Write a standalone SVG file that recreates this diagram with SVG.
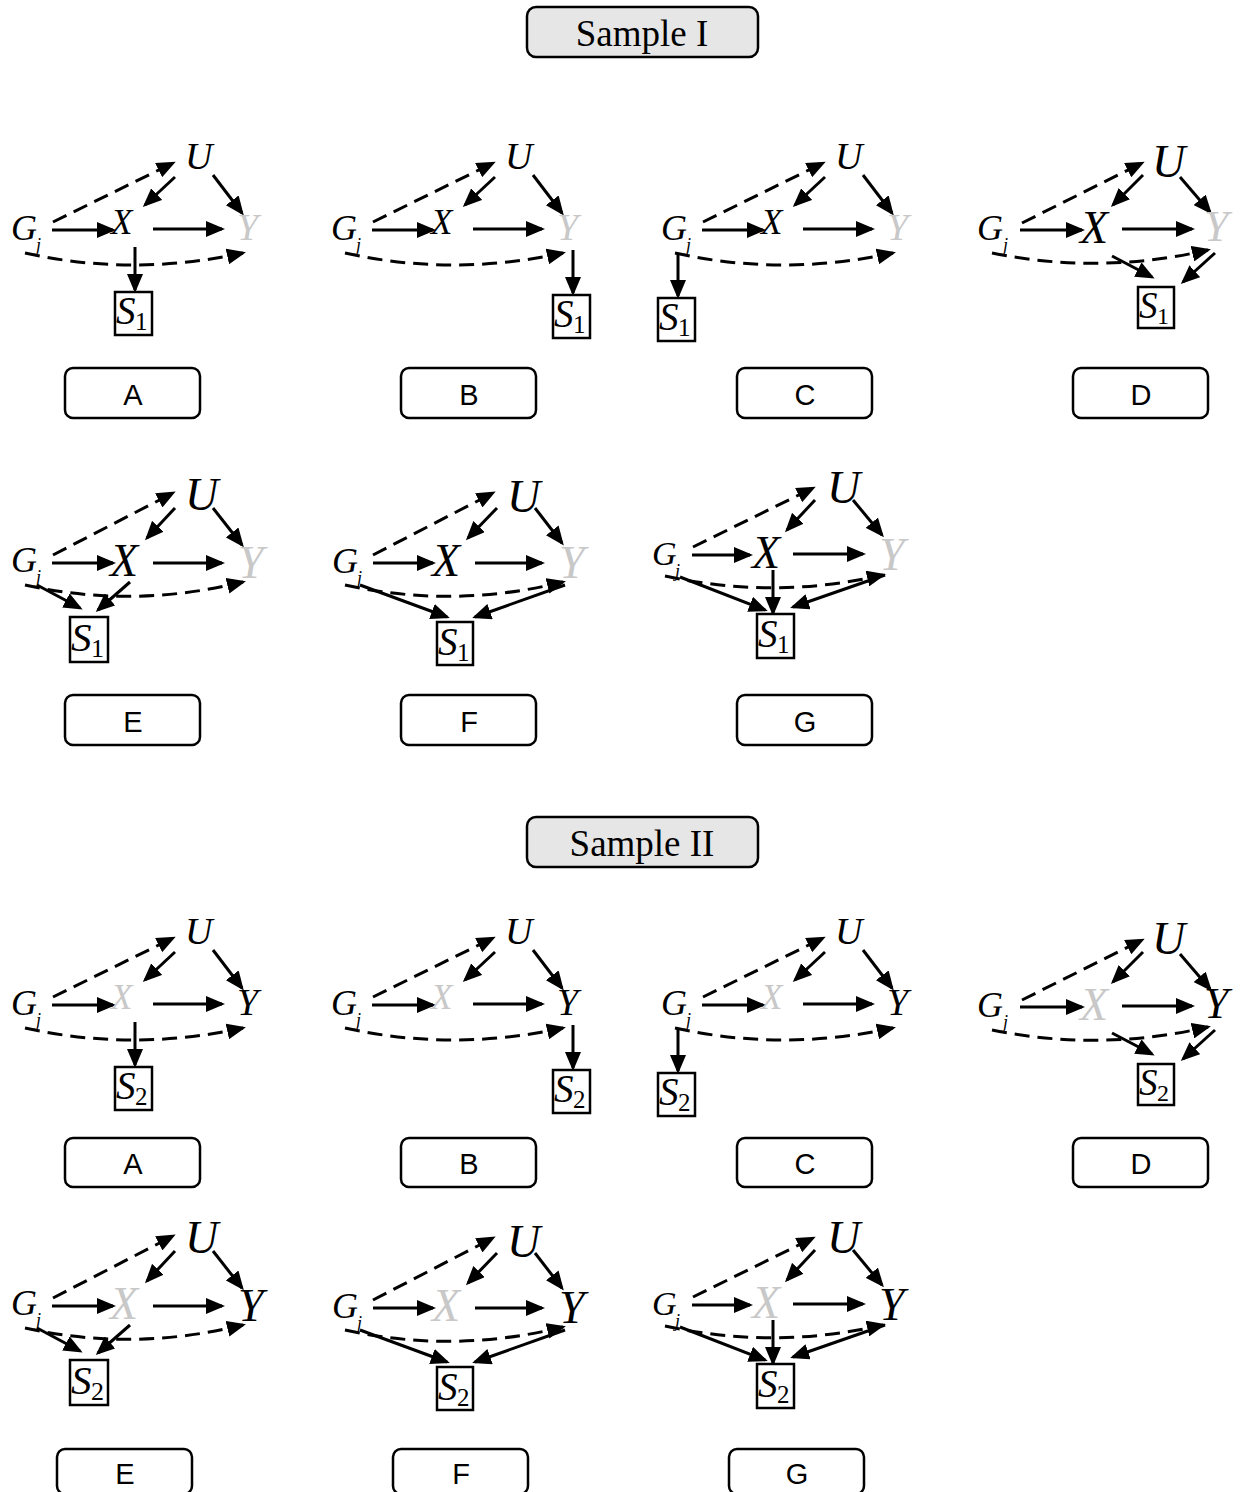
<svg xmlns="http://www.w3.org/2000/svg" width="1246" height="1492" viewBox="0 0 1246 1492">
<defs>
<marker id="ah" markerUnits="userSpaceOnUse" markerWidth="19" markerHeight="16" refX="16" refY="8" orient="auto"><path d="M0,0 L19,8 L0,16 z" fill="#000"/></marker>
<style>
.v{font-family:"Liberation Serif","Times New Roman",serif;font-style:italic;fill:#000}
.gr{fill:#c8c8c8}
.n{font-style:normal}
.e{stroke:#000;stroke-width:3;fill:none;marker-end:url(#ah)}
.d{stroke-dasharray:15 8}
.sb{fill:#fff;stroke:#000;stroke-width:2.5}
.lb{fill:#fff;stroke:#000;stroke-width:2.5}
.tb{fill:#e6e6e6;stroke:#000;stroke-width:2.5}
.lt{font-family:"Liberation Sans",Arial,sans-serif;font-size:29px;text-anchor:middle;fill:#000}
.tt{font-family:"Liberation Serif","Times New Roman",serif;font-size:37px;text-anchor:middle;fill:#000}
</style>
</defs>
<rect width="1246" height="1492" fill="#fff"/>

<!-- Titles -->
<g id="title1"><rect class="tb" x="527" y="7" width="231" height="50" rx="9"/><text class="tt" x="642" y="46">Sample I</text></g>
<g id="title2"><rect class="tb" x="527" y="817" width="231" height="50" rx="9"/><text class="tt" x="642" y="856">Sample II</text></g>

<!-- Labels -->
<g id="labels">
<g id="lab1A"><rect class="lb" x="65" y="368" width="135" height="50" rx="8"/><text class="lt" x="133" y="405">A</text></g>
<g id="lab1B"><rect class="lb" x="401" y="368" width="135" height="50" rx="8"/><text class="lt" x="469" y="405">B</text></g>
<g id="lab1C"><rect class="lb" x="737" y="368" width="135" height="50" rx="8"/><text class="lt" x="805" y="405">C</text></g>
<g id="lab1D"><rect class="lb" x="1073" y="368" width="135" height="50" rx="8"/><text class="lt" x="1141" y="405">D</text></g>
<g id="lab1E"><rect class="lb" x="65" y="695" width="135" height="50" rx="8"/><text class="lt" x="133" y="732">E</text></g>
<g id="lab1F"><rect class="lb" x="401" y="695" width="135" height="50" rx="8"/><text class="lt" x="469" y="732">F</text></g>
<g id="lab1G"><rect class="lb" x="737" y="695" width="135" height="50" rx="8"/><text class="lt" x="805" y="732">G</text></g>
<g id="lab2A"><rect class="lb" x="65" y="1138" width="135" height="49" rx="8"/><text class="lt" x="133" y="1174">A</text></g>
<g id="lab2B"><rect class="lb" x="401" y="1138" width="135" height="49" rx="8"/><text class="lt" x="469" y="1174">B</text></g>
<g id="lab2C"><rect class="lb" x="737" y="1138" width="135" height="49" rx="8"/><text class="lt" x="805" y="1174">C</text></g>
<g id="lab2D"><rect class="lb" x="1073" y="1138" width="135" height="49" rx="8"/><text class="lt" x="1141" y="1174">D</text></g>
<g id="lab2E"><rect class="lb" x="57" y="1449" width="135" height="45" rx="8"/><text class="lt" x="125" y="1484">E</text></g>
<g id="lab2F"><rect class="lb" x="393" y="1449" width="135" height="45" rx="8"/><text class="lt" x="461" y="1484">F</text></g>
<g id="lab2G"><rect class="lb" x="729" y="1449" width="135" height="45" rx="8"/><text class="lt" x="797" y="1484">G</text></g>
</g>

<!-- ===== Sample I ===== -->
<g id="I-A">
<g id="I-A-edges">
<path class="e d" d="M53,222 L173,163"/><path class="e" d="M175,177 L145,205"/><path class="e" d="M213,175 L242,213"/>
<path class="e" d="M52,230 L113,230"/><path class="e" d="M153,229 L222,229"/><path class="e d" d="M25,253 Q133,277 243,253"/>
<path class="e" d="M135,247 L135,290"/>
</g>
<g id="I-A-U"><text class="v" x="185" y="169" font-size="38">U</text></g>
<g id="I-A-G"><text class="v" x="11" y="240" font-size="36">G</text><text class="v" x="36" y="251" font-size="18">j</text></g>
<g id="I-A-X"><text class="v" x="111" y="234" font-size="35">X</text></g>
<g id="I-A-Y"><text class="v gr" x="237" y="240" font-size="38">Y</text></g>
<g id="I-A-S"><rect class="sb" x="115" y="292" width="37" height="43"/><text class="v" x="116" y="324" font-size="39">S</text><text class="v n" x="135" y="330" font-size="25">1</text></g>
</g>

<g id="I-B" transform="translate(320,0)">
<g id="I-B-edges">
<path class="e d" d="M53,222 L173,163"/><path class="e" d="M175,177 L145,205"/><path class="e" d="M213,175 L242,213"/>
<path class="e" d="M52,230 L113,230"/><path class="e" d="M153,229 L222,229"/><path class="e d" d="M25,253 Q133,277 243,253"/>
<path class="e" d="M253,250 L253,293"/>
</g>
<g id="I-B-U"><text class="v" x="185" y="169" font-size="38">U</text></g>
<g id="I-B-G"><text class="v" x="11" y="240" font-size="36">G</text><text class="v" x="36" y="251" font-size="18">j</text></g>
<g id="I-B-X"><text class="v" x="111" y="234" font-size="35">X</text></g>
<g id="I-B-Y"><text class="v gr" x="237" y="240" font-size="38">Y</text></g>
<g id="I-B-S"><rect class="sb" x="233" y="295" width="37" height="43"/><text class="v" x="234" y="327" font-size="39">S</text><text class="v n" x="253" y="333" font-size="25">1</text></g>
</g>

<g id="I-C" transform="translate(650,0)">
<g id="I-C-edges">
<path class="e d" d="M53,222 L173,163"/><path class="e" d="M175,177 L145,205"/><path class="e" d="M213,175 L242,213"/>
<path class="e" d="M52,230 L113,230"/><path class="e" d="M153,229 L222,229"/><path class="e d" d="M25,253 Q133,277 243,253"/>
<path class="e" d="M28,253 L28,296"/>
</g>
<g id="I-C-U"><text class="v" x="185" y="169" font-size="38">U</text></g>
<g id="I-C-G"><text class="v" x="11" y="240" font-size="36">G</text><text class="v" x="36" y="251" font-size="18">j</text></g>
<g id="I-C-X"><text class="v" x="111" y="234" font-size="35">X</text></g>
<g id="I-C-Y"><text class="v gr" x="237" y="240" font-size="38">Y</text></g>
<g id="I-C-S"><rect class="sb" x="8" y="298" width="37" height="43"/><text class="v" x="9" y="330" font-size="39">S</text><text class="v n" x="28" y="336" font-size="25">1</text></g>
</g>

<g id="I-D">
<g id="I-D-edges">
<path class="e d" d="M1022,223 L1142,163"/><path class="e" d="M1143,175 L1113,205"/><path class="e" d="M1180,177 L1210,212"/>
<path class="e" d="M1020,230 L1082,230"/><path class="e" d="M1122,229 L1192,229"/><path class="e d" d="M992,253 Q1100,275 1208,250"/>
<path class="e" d="M1112,256 L1152,277"/><path class="e" d="M1215,253 L1183,282"/>
</g>
<g id="I-D-U"><text class="v" x="1152" y="177" font-size="46">U</text></g>
<g id="I-D-G"><text class="v" x="977" y="240" font-size="36">G</text><text class="v" x="1003" y="251" font-size="18">j</text></g>
<g id="I-D-X"><text class="v" x="1080" y="243" font-size="46">X</text></g>
<g id="I-D-Y"><text class="v gr" x="1204" y="241" font-size="44">Y</text></g>
<g id="I-D-S"><rect class="sb" x="1138" y="287" width="36" height="41"/><text class="v" x="1139" y="318" font-size="37">S</text><text class="v n" x="1157" y="324" font-size="24">1</text></g>
</g>

<g id="I-E">
<g id="I-E-edges">
<path class="e d" d="M53,555 L173,493"/><path class="e" d="M175,508 L147,538"/><path class="e" d="M213,508 L242,545"/>
<path class="e" d="M52,563 L113,563"/><path class="e" d="M153,563 L222,563"/><path class="e d" d="M25,585 Q133,609 243,582"/>
<path class="e" d="M37,585 L80,608"/><path class="e" d="M130,582 L98,610"/>
</g>
<g id="I-E-U"><text class="v" x="185" y="510" font-size="46">U</text></g>
<g id="I-E-G"><text class="v" x="11" y="572" font-size="36">G</text><text class="v" x="36" y="583" font-size="18">j</text></g>
<g id="I-E-X"><text class="v" x="110" y="576" font-size="46">X</text></g>
<g id="I-E-Y"><text class="v gr" x="238" y="578" font-size="46">Y</text></g>
<g id="I-E-S"><rect class="sb" x="70" y="617" width="38" height="45"/><text class="v" x="71" y="651" font-size="41">S</text><text class="v n" x="91" y="657" font-size="26">1</text></g>
</g>

<g id="I-F">
<g id="I-F-edges">
<path class="e d" d="M373,555 L493,493"/><path class="e" d="M497,508 L468,538"/><path class="e" d="M535,508 L562,543"/>
<path class="e" d="M373,563 L433,563"/><path class="e" d="M475,563 L542,563"/><path class="e d" d="M345,585 Q454,609 563,582"/>
<path class="e" d="M360,585 L447,617"/><path class="e" d="M565,585 L475,617"/>
</g>
<g id="I-F-U"><text class="v" x="507" y="512" font-size="46">U</text></g>
<g id="I-F-G"><text class="v" x="332" y="573" font-size="36">G</text><text class="v" x="357" y="584" font-size="18">j</text></g>
<g id="I-F-X"><text class="v" x="432" y="576" font-size="46">X</text></g>
<g id="I-F-Y"><text class="v gr" x="559" y="578" font-size="46">Y</text></g>
<g id="I-F-S"><rect class="sb" x="437" y="622" width="36" height="43"/><text class="v" x="438" y="655" font-size="39">S</text><text class="v n" x="457" y="661" font-size="25">1</text></g>
</g>

<g id="I-G">
<g id="I-G-edges">
<path class="e d" d="M693,547 L813,488"/><path class="e" d="M815,500 L787,530"/><path class="e" d="M853,500 L882,535"/>
<path class="e" d="M692,555 L750,555"/><path class="e" d="M793,554 L863,554"/><path class="e d" d="M665,576 Q774,600 883,575"/>
<path class="e" d="M680,577 L765,610"/><path class="e" d="M773,570 L773,613"/><path class="e" d="M885,575 L793,607"/>
</g>
<g id="I-G-U"><text class="v" x="827" y="503" font-size="46">U</text></g>
<g id="I-G-G"><text class="v" x="652" y="565" font-size="34">G</text><text class="v" x="675" y="577" font-size="18">j</text></g>
<g id="I-G-X"><text class="v" x="752" y="568" font-size="46">X</text></g>
<g id="I-G-Y"><text class="v gr" x="879" y="570" font-size="46">Y</text></g>
<g id="I-G-S"><rect class="sb" x="757" y="614" width="37" height="44"/><text class="v" x="758" y="647" font-size="39">S</text><text class="v n" x="777" y="653" font-size="25">1</text></g>
</g>

<!-- ===== Sample II ===== -->
<g id="II-A" transform="translate(0,775)">
<g id="II-A-edges">
<path class="e d" d="M53,222 L173,163"/><path class="e" d="M175,177 L145,205"/><path class="e" d="M213,175 L242,213"/>
<path class="e" d="M52,230 L113,230"/><path class="e" d="M153,229 L222,229"/><path class="e d" d="M25,253 Q133,277 243,253"/>
<path class="e" d="M135,247 L135,290"/>
</g>
<g id="II-A-U"><text class="v" x="185" y="169" font-size="38">U</text></g>
<g id="II-A-G"><text class="v" x="11" y="240" font-size="36">G</text><text class="v" x="36" y="251" font-size="18">j</text></g>
<g id="II-A-X"><text class="v gr" x="111" y="234" font-size="35">X</text></g>
<g id="II-A-Y"><text class="v" x="237" y="240" font-size="38">Y</text></g>
<g id="II-A-S"><rect class="sb" x="115" y="292" width="37" height="43"/><text class="v" x="116" y="324" font-size="39">S</text><text class="v n" x="135" y="330" font-size="25">2</text></g>
</g>

<g id="II-B" transform="translate(320,775)">
<g id="II-B-edges">
<path class="e d" d="M53,222 L173,163"/><path class="e" d="M175,177 L145,205"/><path class="e" d="M213,175 L242,213"/>
<path class="e" d="M52,230 L113,230"/><path class="e" d="M153,229 L222,229"/><path class="e d" d="M25,253 Q133,277 243,253"/>
<path class="e" d="M253,250 L253,293"/>
</g>
<g id="II-B-U"><text class="v" x="185" y="169" font-size="38">U</text></g>
<g id="II-B-G"><text class="v" x="11" y="240" font-size="36">G</text><text class="v" x="36" y="251" font-size="18">j</text></g>
<g id="II-B-X"><text class="v gr" x="111" y="234" font-size="35">X</text></g>
<g id="II-B-Y"><text class="v" x="237" y="240" font-size="38">Y</text></g>
<g id="II-B-S"><rect class="sb" x="233" y="295" width="37" height="43"/><text class="v" x="234" y="327" font-size="39">S</text><text class="v n" x="253" y="333" font-size="25">2</text></g>
</g>

<g id="II-C" transform="translate(650,775)">
<g id="II-C-edges">
<path class="e d" d="M53,222 L173,163"/><path class="e" d="M175,177 L145,205"/><path class="e" d="M213,175 L242,213"/>
<path class="e" d="M52,230 L113,230"/><path class="e" d="M153,229 L222,229"/><path class="e d" d="M25,253 Q133,277 243,253"/>
<path class="e" d="M28,253 L28,296"/>
</g>
<g id="II-C-U"><text class="v" x="185" y="169" font-size="38">U</text></g>
<g id="II-C-G"><text class="v" x="11" y="240" font-size="36">G</text><text class="v" x="36" y="251" font-size="18">j</text></g>
<g id="II-C-X"><text class="v gr" x="111" y="234" font-size="35">X</text></g>
<g id="II-C-Y"><text class="v" x="237" y="240" font-size="38">Y</text></g>
<g id="II-C-S"><rect class="sb" x="8" y="298" width="37" height="43"/><text class="v" x="9" y="330" font-size="39">S</text><text class="v n" x="28" y="336" font-size="25">2</text></g>
</g>

<g id="II-D" transform="translate(0,777)">
<g id="II-D-edges">
<path class="e d" d="M1022,223 L1142,163"/><path class="e" d="M1143,175 L1113,205"/><path class="e" d="M1180,177 L1210,212"/>
<path class="e" d="M1020,230 L1082,230"/><path class="e" d="M1122,229 L1192,229"/><path class="e d" d="M992,253 Q1100,275 1208,250"/>
<path class="e" d="M1112,256 L1152,277"/><path class="e" d="M1215,253 L1183,282"/>
</g>
<g id="II-D-U"><text class="v" x="1152" y="177" font-size="46">U</text></g>
<g id="II-D-G"><text class="v" x="977" y="240" font-size="36">G</text><text class="v" x="1003" y="251" font-size="18">j</text></g>
<g id="II-D-X"><text class="v gr" x="1080" y="243" font-size="46">X</text></g>
<g id="II-D-Y"><text class="v" x="1204" y="241" font-size="44">Y</text></g>
<g id="II-D-S"><rect class="sb" x="1138" y="287" width="36" height="41"/><text class="v" x="1139" y="318" font-size="37">S</text><text class="v n" x="1157" y="324" font-size="24">2</text></g>
</g>

<g id="II-E" transform="translate(0,743)">
<g id="II-E-edges">
<path class="e d" d="M53,555 L173,493"/><path class="e" d="M175,508 L147,538"/><path class="e" d="M213,508 L242,545"/>
<path class="e" d="M52,563 L113,563"/><path class="e" d="M153,563 L222,563"/><path class="e d" d="M25,585 Q133,609 243,582"/>
<path class="e" d="M37,585 L80,608"/><path class="e" d="M130,582 L98,610"/>
</g>
<g id="II-E-U"><text class="v" x="185" y="510" font-size="46">U</text></g>
<g id="II-E-G"><text class="v" x="11" y="572" font-size="36">G</text><text class="v" x="36" y="583" font-size="18">j</text></g>
<g id="II-E-X"><text class="v gr" x="110" y="576" font-size="46">X</text></g>
<g id="II-E-Y"><text class="v" x="238" y="578" font-size="46">Y</text></g>
<g id="II-E-S"><rect class="sb" x="70" y="617" width="38" height="45"/><text class="v" x="71" y="651" font-size="41">S</text><text class="v n" x="91" y="657" font-size="26">2</text></g>
</g>

<g id="II-F" transform="translate(0,745)">
<g id="II-F-edges">
<path class="e d" d="M373,555 L493,493"/><path class="e" d="M497,508 L468,538"/><path class="e" d="M535,508 L562,543"/>
<path class="e" d="M373,563 L433,563"/><path class="e" d="M475,563 L542,563"/><path class="e d" d="M345,585 Q454,609 563,582"/>
<path class="e" d="M360,585 L447,617"/><path class="e" d="M565,585 L475,617"/>
</g>
<g id="II-F-U"><text class="v" x="507" y="512" font-size="46">U</text></g>
<g id="II-F-G"><text class="v" x="332" y="573" font-size="36">G</text><text class="v" x="357" y="584" font-size="18">j</text></g>
<g id="II-F-X"><text class="v gr" x="432" y="576" font-size="46">X</text></g>
<g id="II-F-Y"><text class="v" x="559" y="578" font-size="46">Y</text></g>
<g id="II-F-S"><rect class="sb" x="437" y="622" width="36" height="43"/><text class="v" x="438" y="655" font-size="39">S</text><text class="v n" x="457" y="661" font-size="25">2</text></g>
</g>

<g id="II-G" transform="translate(0,750)">
<g id="II-G-edges">
<path class="e d" d="M693,547 L813,488"/><path class="e" d="M815,500 L787,530"/><path class="e" d="M853,500 L882,535"/>
<path class="e" d="M692,555 L750,555"/><path class="e" d="M793,554 L863,554"/><path class="e d" d="M665,576 Q774,600 883,575"/>
<path class="e" d="M680,577 L765,610"/><path class="e" d="M773,570 L773,613"/><path class="e" d="M885,575 L793,607"/>
</g>
<g id="II-G-U"><text class="v" x="827" y="503" font-size="46">U</text></g>
<g id="II-G-G"><text class="v" x="652" y="565" font-size="34">G</text><text class="v" x="675" y="577" font-size="18">j</text></g>
<g id="II-G-X"><text class="v gr" x="752" y="568" font-size="46">X</text></g>
<g id="II-G-Y"><text class="v" x="879" y="570" font-size="46">Y</text></g>
<g id="II-G-S"><rect class="sb" x="757" y="614" width="37" height="44"/><text class="v" x="758" y="647" font-size="39">S</text><text class="v n" x="777" y="653" font-size="25">2</text></g>
</g>
</svg>
